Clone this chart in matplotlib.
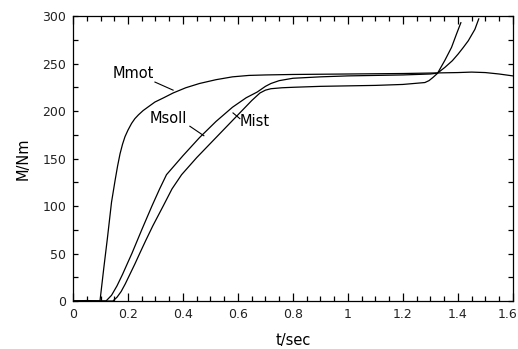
import matplotlib
matplotlib.use("Agg")
import matplotlib.pyplot as plt
import matplotlib.transforms as mtransforms
from matplotlib.ticker import MultipleLocator

# ── data ─────────────────────────────────────────────────────────────────
t_mot = [0.0, 0.05, 0.098, 0.112, 0.125, 0.14, 0.153, 0.162, 0.171, 0.18,
         0.189, 0.2, 0.213, 0.225, 0.238, 0.255, 0.274, 0.298, 0.33, 0.364,
         0.41, 0.46, 0.52, 0.58, 0.64, 0.7, 0.8, 1.0, 1.2, 1.3,
         1.4, 1.45, 1.5, 1.55, 1.6]
m_mot = [0.0, 0.5, 0.0, 35, 66, 104, 127, 142, 155, 165,
         173, 180, 187, 192, 196, 200.5, 204.5, 209.5, 214, 219,
         224.5, 229, 233, 236, 237.5, 238, 238.5, 239, 239.5, 240,
         240.5, 241, 240.5, 239, 237]

t_soll = [0.0, 0.12, 0.14, 0.16, 0.18, 0.2, 0.214, 0.25, 0.287, 0.315,
          0.34, 0.4, 0.46, 0.52, 0.58, 0.63, 0.67, 0.7, 0.72, 0.75,
          0.8, 0.9, 1.0, 1.1, 1.2, 1.3, 1.326, 1.353, 1.38, 1.401,
          1.42, 1.438, 1.462, 1.476]
m_soll = [0.0, 0.0, 6, 16, 28, 41, 50, 75, 100, 118,
          133, 153, 172, 189, 204, 214, 220, 226, 229, 232,
          234.5, 236, 237, 237.5, 238, 239, 239.9, 246, 253, 260,
          267, 274, 286, 297]

t_ist = [0.0, 0.145, 0.16, 0.175, 0.19, 0.205, 0.225, 0.244, 0.265, 0.29,
         0.328, 0.36, 0.395, 0.45, 0.5, 0.55, 0.61, 0.65, 0.68, 0.7,
         0.72, 0.76, 0.8, 0.9, 1.0, 1.1, 1.2, 1.26, 1.28, 1.295,
         1.31, 1.326, 1.353, 1.377, 1.395, 1.411]
m_ist = [0.0, 0.0, 4, 10, 18, 27, 39, 51, 64, 79,
         100, 118, 133, 151, 166, 181, 199, 211, 219, 222,
         223.5, 224.5, 225, 226, 226.5, 227, 228, 229.5, 230, 232,
         235.5, 239.7, 253.5, 267, 281, 293]

x_ticks = [0, 0.2, 0.4, 0.6, 0.8, 1, 1.2, 1.4, 1.6]
x_tick_labels = ["0", "0.2", "0.4", "0.6", "0.8", "1", "1.2", "1.4", "1.6"]
y_ticks = [0, 50, 100, 150, 200, 250, 300]

# ── figure ───────────────────────────────────────────────────────────────
plt.rcParams["font.family"] = "DejaVu Sans"
fig = plt.figure(figsize=(5.18, 3.49), dpi=100)
ax = fig.add_axes([0.141, 0.1375, 0.849, 0.8165])

for t, m in ((t_mot, m_mot), (t_soll, m_soll), (t_ist, m_ist)):
    ax.plot(t, m, color="black", lw=0.9)

ax.set_xlim(0, 1.6)
ax.set_ylim(0, 300)
ax.set_xticks(x_ticks)
ax.set_xticklabels(x_tick_labels)
ax.set_yticks(y_ticks)
ax.xaxis.set_minor_locator(MultipleLocator(0.05))
ax.yaxis.set_minor_locator(MultipleLocator(25))

ax.tick_params(which="both", direction="in", top=True, right=True,
               labelsize=9, labelcolor="#222222", width=0.9)
ax.tick_params(which="major", length=6, pad=5)
ax.tick_params(which="minor", length=3.5)
ax.tick_params(axis="y", which="major", length=3.5)
for s in ax.spines.values():
    s.set_linewidth(0.9)

# last x label sits at the figure edge; nudge it left so it stays readable
last = ax.get_xticklabels()[-1]
last.set_transform(last.get_transform() +
                   mtransforms.ScaledTranslation(-5 / 100, 0, fig.dpi_scale_trans))

ax.set_xlabel("t/sec", fontsize=10.5, labelpad=9)
ax.set_ylabel("M/Nm", fontsize=10.5, labelpad=8)

# ── curve labels with leader lines ───────────────────────────────────────
ax.text(0.145, 239, "Mmot", fontsize=10.5, ha="left", va="center")
ax.plot([0.298, 0.364], [230.5, 222], color="black", lw=0.8)
ax.text(0.28, 192, "Msoll", fontsize=10.5, ha="left", va="center")
ax.plot([0.425, 0.476], [184, 174], color="black", lw=0.8)
ax.text(0.607, 189, "Mist", fontsize=10.5, ha="left", va="center")
ax.plot([0.582, 0.607], [198, 192], color="black", lw=0.8)

fig.savefig("out.png", dpi=100)
